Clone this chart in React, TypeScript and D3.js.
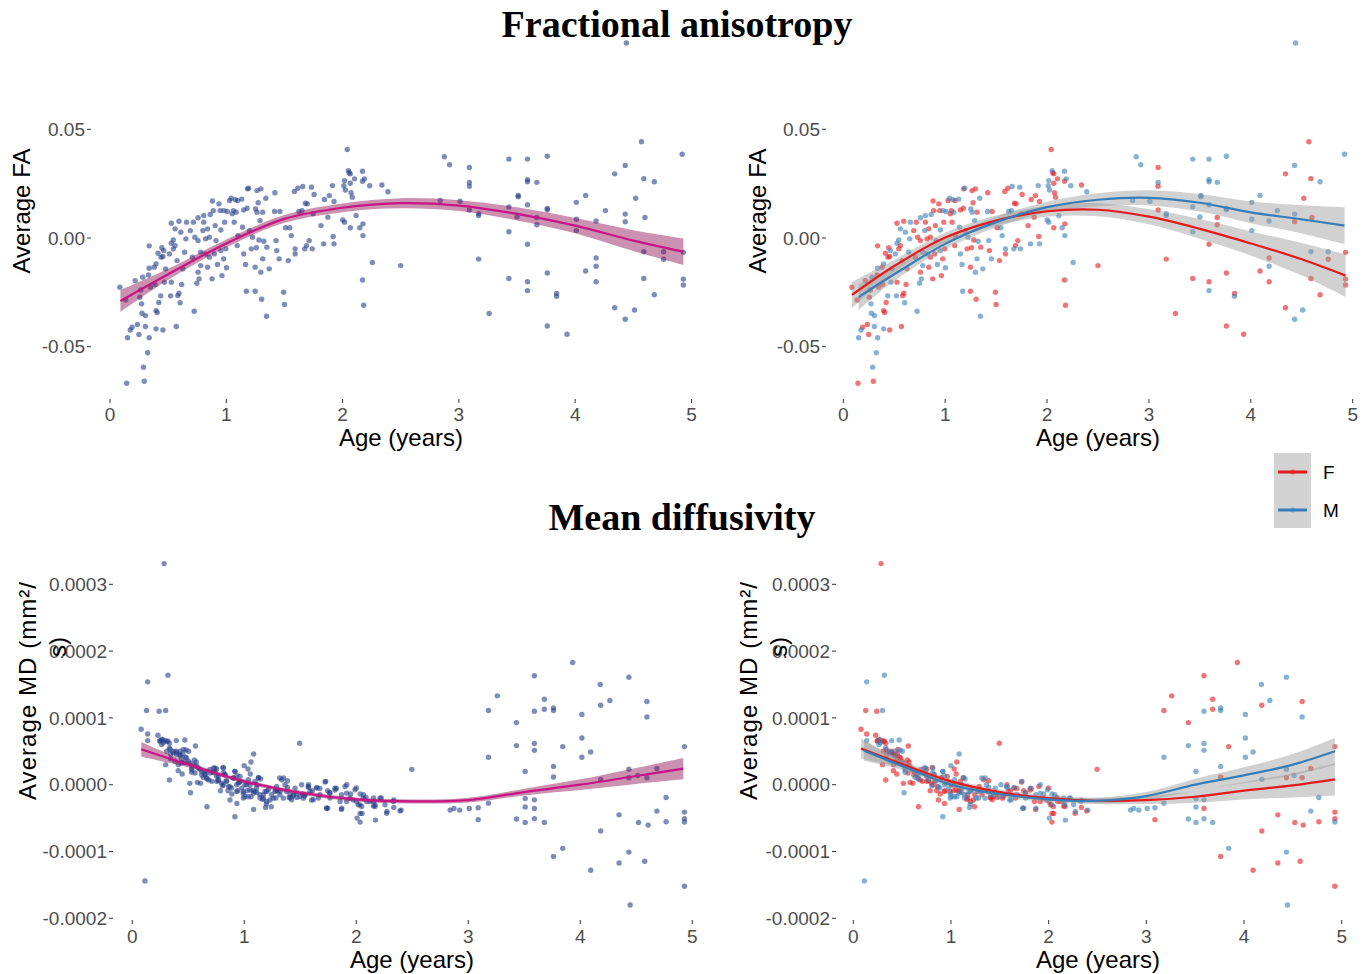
import React from 'react';
import * as d3 from 'd3';

// ---------------- Data ----------------
// Fractional anisotropy (age in years, average FA)
const faFemale: [number, number][] = [
  [0.085,-0.0226],[0.135,-0.0285],[0.19,-0.041],[0.144,-0.0668],[0.236,-0.0398],[0.249,-0.0444],[0.256,-0.0272],[0.295,-0.0659],[0.331,-0.017],[0.337,-0.0036],
  [0.265,-0.0239],[0.216,-0.0196],[0.387,-0.0214],[0.347,-0.0226],[0.396,-0.0334],[0.406,-0.0343],[0.455,-0.0423],[0.42,-0.0297],[0.57,-0.0407],[0.593,-0.0254],
  [0.583,-0.0265],[0.446,-0.0045],[0.413,-0.007],[0.439,-0.0088],[0.455,-0.0085],[0.38,-0.0134],[0.527,-0.0203],[0.56,-0.0035],[0.527,0.0068],[0.593,0.0077],
  [0.544,-0.005],[0.577,-0.0104],[0.626,-0.0142],[0.616,-0.0214],[0.691,0.0034],[0.717,0.0073],[0.73,0.0004],[0.757,-0.0012],[0.757,-0.0157],[0.822,-0.0004],
  [0.839,0.0042],[0.855,0.0004],[0.878,-0.0188],[0.881,0.017],[0.888,0.0126],[0.904,0.0057],[0.937,0.0157],[0.947,0.0126],[0.963,-0.0173],[0.976,-0.0096],
  [0.986,0.0073],[0.996,-0.005],[0.855,-0.0088],[0.708,-0.0088],[0.897,-0.0073],[0.839,-0.0134],[0.806,0.0073],[1.028,0.0172],[1.051,0.0111],[1.061,0.0126],
  [1.097,0.0172],[1.068,0.0073],[1.094,-0.0035],[1.1,0.0011],[1.15,0.0129],[1.179,0.0137],[1.182,0.0226],[1.199,0.0034],[1.215,-0.005],[1.248,-0.0245],
  [1.258,-0.0045],[1.264,0.0218],[1.274,0.0162],[1.281,-0.0009],[1.297,0.0226],[1.304,-0.0282],[1.313,0.0119],[1.248,-0.0134],[1.349,-0.0042],[1.418,0.0208],
  [1.434,-0.0058],[1.461,0.0122],[1.493,-0.0249],[1.5,-0.0306],[1.51,0.0047],[1.533,-0.0104],[1.585,0.0214],[1.592,-0.0073],[1.615,0.0229],[1.69,-0.0035],
  [1.713,-0.0012],[1.746,0.0111],[1.755,0.02],[1.68,0.016],[1.696,0.0157],[1.814,0.0057],[1.844,0.0177],[1.886,0.0195],[1.919,0.0007],[1.926,0.0168],
  [1.873,0.0096],[2.04,0.0407],[2.057,0.03],[2.066,0.0295],[2.066,0.0252],[2.073,0.0208],[2.083,0.0188],[2.066,0.0047],[2.171,0.0261],[2.175,0.0065],
  [2.171,-0.0193],[2.181,-0.0309],[2.338,0.0244],[2.103,0.0272],
  [2.5,-0.0127],[3.09,0.0324],[3.09,0.0238],[3.09,0.0129],[3.17,-0.0097],[3.26,-0.0347],[3.67,0.0094],[3.67,0.0061],[3.59,-0.0029],[3.76,-0.0161],
  [3.43,-0.0186],[3.59,-0.0201],[3.84,-0.0255],[3.76,-0.0405],[3.93,-0.0443],[4.09,-0.0152],[4.18,-0.0092],[4.18,-0.0201],[4.34,0.0295],[4.43,0.0075],
  [4.34,-0.0321],[4.57,0.0443],[4.59,0.0273],[4.52,0.0183],[4.6,0.0094],[4.59,-0.0186],[4.68,-0.0261],[4.76,-0.0098],[4.93,-0.0066],[4.93,-0.0189],[4.93,-0.0216],
];
const faMale: [number, number][] = [
  [0.151,-0.0459],[0.174,-0.0423],[0.272,-0.0303],[0.275,-0.0346],[0.305,-0.0357],[0.288,-0.0594],[0.324,-0.0528],[0.337,-0.0459],[0.305,-0.0407],[0.337,-0.0139],
  [0.282,-0.018],[0.396,-0.0418],[0.436,-0.0266],[0.521,-0.0266],[0.603,-0.0298],[0.462,-0.0058],[0.396,-0.0119],[0.478,-0.0142],[0.468,-0.0203],[0.527,-0.0024],
  [0.544,-0.0009],[0.56,0.0042],[0.609,0.0027],[0.511,-0.0073],[0.642,-0.0065],[0.652,-0.0004],[0.658,0.0073],[0.724,-0.0337],[0.757,0.0093],[0.766,-0.0188],
  [0.747,-0.0208],[0.78,-0.0127],[0.806,0.0103],[0.799,0.0034],[0.862,0.0108],[0.911,-0.0012],[0.924,-0.0122],[0.953,0.0037],[0.979,0.0126],[1.002,-0.0137],
  [0.822,-0.0073],[0.78,-0.0065],[0.953,-0.0058],[1.009,0.0122],[1.042,0.0183],[1.078,0.0176],[1.084,0.0119],[1.133,0.0179],[1.14,0.005],[1.15,-0.0073],
  [1.166,-0.0122],[1.172,-0.0245],[1.192,0.0229],[1.225,0.0004],[1.251,0.0134],[1.264,0.0119],[1.29,0.008],[1.323,-0.0015],[1.313,-0.0096],[1.297,-0.0157],
  [1.346,-0.036],[1.34,0.0183],[1.369,-0.0142],[1.415,0.0122],[1.428,-0.0012],[1.454,-0.0096],[1.546,0.0047],[1.592,-0.005],[1.624,0.0122],[1.651,0.0126],
  [1.657,0.0237],[1.674,-0.005],[1.732,0.0234],[1.739,-0.005],[1.837,-0.0027],[1.559,0.0011],[1.913,0.0241],[1.926,-0.0027],[2.001,0.0083],[2.017,0.0073],
  [2.017,0.0264],[2.011,0.024],[2.024,0.0221],[2.05,0.031],[2.116,0.0103],[2.148,0.0047],[2.171,0.0307],[2.188,0.0272],[2.175,0.0011],[2.233,0.024],
  [2.256,-0.0113],[2.39,0.0213],
  [2.875,0.0374],[2.92,0.0337],[2.84,0.0173],[3.01,0.0169],[3.09,0.0255],[3.17,0.0112],[3.17,0.0103],[3.43,0.0363],[3.59,0.0363],[3.76,0.0376],
  [3.59,0.0268],[3.59,0.0259],[3.67,0.0256],[3.51,0.0196],[3.51,0.019],[3.43,0.0143],[3.59,0.0153],[3.76,0.0136],[3.76,0.013],[3.5,0.0097],
  [3.43,0.0029],[3.59,-0.0242],[3.84,-0.0268],[4.09,0.0196],[4.01,0.0164],[4.01,0.0086],[4.01,0.0034],[4.18,0.0078],[4.26,0.0126],[4.18,-0.013],
  [4.43,0.0334],[4.44,0.0897],[4.43,0.011],[4.43,-0.0374],[4.51,-0.0331],[4.68,0.0259],[4.59,-0.0063],[4.76,-0.0063],[4.92,0.0385],
];

// Mean diffusivity (age in years, average MD in units of 1e-4 mm²/s)
const MD_UNIT = 1e-4;
const mdFemale: [number, number][] = [
  [0.284,3.31],[0.127,1.11],[0.24,1.10],[0.079,0.83],[0.137,0.76],[0.229,0.74],[0.246,0.66],[0.263,0.67],[0.291,0.66],[0.318,0.65],
  [0.332,0.62],[0.342,0.46],[0.393,0.50],[0.428,0.45],[0.451,0.46],[0.472,0.41],[0.564,0.58],[0.298,0.30],[0.332,0.07],[0.41,0.21],
  [0.445,0.16],[0.513,0.02],[0.581,0.035],[0.609,0.02],[0.65,0.16],[0.684,0.07],[0.752,0.235],[0.81,0.26],[0.769,0.06],[0.787,-0.09],
  [0.838,0.06],[0.855,-0.09],[0.872,-0.23],[0.957,0.035],[0.94,-0.09],[0.554,0.37],[0.571,0.34],[1.033,0.235],[1.06,0.34],[1.053,0.16],
  [0.889,-0.14],[0.934,-0.28],[1.026,-0.09],[1.077,-0.09],[1.163,-0.22],[1.084,-0.37],[1.241,-0.33],[1.282,-0.09],[1.385,0.06],[1.402,-0.19],
  [1.436,-0.17],[0.667,-0.33],[1.494,0.62],[1.573,0.0],[1.607,-0.09],[1.675,-0.056],[1.744,-0.09],[1.822,-0.056],[2.0,-0.05],[2.086,-0.19],
  [1.744,-0.35],[1.867,-0.37],[2.034,-0.43],[2.051,-0.43],[2.034,-0.56],[2.335,-0.34],[2.154,-0.32],[2.496,0.23],[1.47,-0.19],[1.539,-0.17],
  [0.307,0.50],[0.396,0.48],[0.44,0.38],[0.5,0.35],[0.574,0.28],[0.619,0.15],[0.693,0.23],[0.753,0.05],[0.813,0.0],[0.902,0.1],
  [0.961,0.05],[1.006,0.0],[1.095,-0.1],[1.17,-0.15],[1.229,-0.23],[1.318,-0.15],[1.408,-0.2],[1.542,-0.15],[1.661,-0.2],[1.81,-0.08],
  [1.914,-0.25],[2.018,-0.3],[2.122,-0.25],
  [0.247,0.652],[0.307,0.652],[0.337,0.526],[0.396,0.451],[0.456,0.526],[0.411,0.3],[0.485,0.401],[0.545,0.3],[0.56,0.175],[0.62,0.2],
  [0.664,0.1],[0.709,0.05],[0.753,0.125],[0.798,0.024],[0.828,0.15],[0.858,-0.026],[0.902,0.1],[0.932,-0.101],[0.962,0.125],[0.991,-0.101],
  [1.021,0.0],[1.051,-0.076],[1.096,0.05],[1.125,0.1],[1.17,-0.201],[1.2,-0.252],[1.244,-0.151],[1.289,-0.026],[1.334,0.075],[1.378,-0.101],
  [1.423,-0.226],[1.468,-0.126],[1.527,-0.201],[1.587,-0.101],[1.646,-0.051],[1.721,0.04],[1.765,-0.126],[1.855,-0.252],[1.899,-0.026],[1.944,-0.201],
  [2.003,-0.252],[2.048,-0.327],[2.093,-0.252],[2.167,-0.327],[2.271,-0.427],[2.39,-0.392],
  [3.932,1.83],[3.59,1.63],[3.259,1.33],[3.679,1.28],[4.595,1.245],[4.182,1.19],[3.18,1.11],[3.679,1.13],[3.43,0.93],[3.843,0.57],
  [4.93,0.57],[3.761,0.116],[4.684,0.244],[4.434,0.105],[4.595,0.105],[3.59,-0.355],[3.088,-0.523],[4.346,-0.451],[4.93,-0.41],[4.93,-0.508],
  [4.52,-0.564],[4.606,-0.605],[4.766,-0.554],[4.182,-0.692],[3.761,-1.075],[4.093,-1.28],[4.346,-1.173],[4.575,-1.147],[4.93,-1.52],
];
const mdMale: [number, number][] = [
  [0.137,1.54],[0.318,1.64],[0.298,1.11],[0.137,0.66],[0.267,0.68],[0.393,0.66],[0.469,0.67],[0.332,0.55],[0.479,0.52],[0.503,0.50],
  [0.342,0.39],[0.53,0.185],[0.633,0.11],[0.667,0.085],[0.725,0.25],[0.814,0.185],[0.804,-0.015],[0.916,0.2],[0.934,0.135],[0.999,0.285],
  [1.084,0.46],[1.128,0.11],[1.145,0.085],[0.992,-0.2],[1.06,-0.18],[1.111,-0.116],[1.19,-0.34],[1.197,-0.29],[1.282,-0.2],[1.299,-0.09],
  [1.316,0.1],[1.35,0.1],[1.385,-0.04],[0.916,-0.48],[0.52,-0.12],[1.573,-0.04],[1.648,-0.04],[1.727,0.05],[1.761,-0.116],[1.915,0.0],
  [1.949,-0.14],[2.034,-0.14],[2.154,-0.2],[2.222,-0.2],[2.335,-0.23],[1.737,-0.35],[2.007,-0.50],[2.171,-0.53],[2.274,-0.40],[2.4,-0.38],
  [1.522,-0.14],[0.113,-1.44],
  [0.366,0.50],[0.426,0.43],[0.47,0.33],[0.53,0.25],[0.604,0.23],[0.649,0.2],[0.723,0.18],[0.738,0.25],[0.768,0.13],[0.827,0.15],
  [0.872,-0.03],[0.932,0.0],[0.991,-0.13],[1.036,-0.18],[1.051,0.0],[1.11,0.0],[1.14,-0.2],[1.2,-0.1],[1.274,-0.1],[1.363,0.0],
  [1.438,-0.15],[1.512,0.0],[1.601,-0.23],[1.765,-0.2],[1.869,-0.15],[1.973,-0.23],[2.063,-0.15],[2.167,-0.3],[2.256,-0.3],
  [0.277,0.627],[0.262,0.602],[0.366,0.476],[0.426,0.501],[0.381,0.351],[0.441,0.326],[0.515,0.326],[0.53,0.225],[0.59,0.25],[0.649,0.15],
  [0.694,0.175],[0.738,0.2],[0.768,0.075],[0.813,0.25],[0.843,0.05],[0.887,-0.051],[0.917,0.2],[0.947,0.024],[0.977,-0.051],[1.006,-0.176],
  [1.036,0.075],[1.081,-0.126],[1.11,-0.051],[1.14,-0.151],[1.185,-0.101],[1.215,-0.076],[1.259,-0.201],[1.319,-0.101],[1.349,-0.201],[1.408,-0.151],
  [1.453,-0.051],[1.497,-0.176],[1.572,-0.026],[1.616,-0.226],[1.676,-0.151],[1.735,-0.352],[1.81,-0.051],[1.87,-0.352],[1.914,-0.126],[1.988,-0.076],
  [2.033,-0.302],[2.063,-0.201],[2.152,-0.252],[2.212,-0.201],[2.331,-0.252],
  [4.434,1.61],[4.178,1.50],[4.264,1.26],[3.59,1.10],[3.761,1.15],[3.761,1.11],[4.014,1.05],[4.595,1.015],[4.014,0.70],[3.43,0.585],
  [3.59,0.617],[3.59,0.514],[3.18,0.41],[4.014,0.41],[4.093,0.49],[3.508,0.197],[3.761,0.274],[4.434,0.233],[4.513,0.137],[4.182,0.08],
  [3.18,-0.278],[3.508,-0.334],[3.508,-0.206],[3.59,-0.227],[3.088,-0.344],[2.838,-0.38],[2.872,-0.355],[2.923,-0.38],[3.009,-0.355],[3.43,-0.513],
  [3.508,-0.564],[3.59,-0.508],[3.679,-0.564],[4.766,-0.191],[4.684,-0.395],[4.93,-0.559],[3.843,-0.953],[4.434,-1.009],[4.445,-1.80],
];

// Fitted curves with confidence band half-widths
const faFitAge = [0.09, 0.5, 1.0, 1.5, 2.0, 2.5, 3.0, 3.5, 4.0, 4.5, 4.93];
const faFitMid = [-0.029, -0.0167, -0.0025, 0.0088, 0.0139, 0.016, 0.0149, 0.0111, 0.0057, -0.0012, -0.0063];
const faFitHalf = [0.005, 0.0025, 0.0018, 0.0018, 0.002, 0.0023, 0.0025, 0.003, 0.0035, 0.0048, 0.0061];

const faFitFAge = [0.085, 0.5, 1.0, 1.5, 2.0, 2.5, 3.0, 3.5, 4.0, 4.5, 4.93];
const faFitFMid = [-0.0262, -0.0129, 0.0002, 0.008, 0.0123, 0.013, 0.0098, 0.0042, -0.0025, -0.0098, -0.0173];
const faFitFHalf = [0.006, 0.0028, 0.0023, 0.0023, 0.0025, 0.003, 0.0035, 0.0045, 0.0055, 0.0075, 0.0098];

const faFitMAge = [0.15, 0.5, 1.0, 1.5, 2.0, 2.5, 3.0, 3.5, 4.0, 4.5, 4.92];
const faFitMMid = [-0.0272, -0.0167, -0.0027, 0.0073, 0.0142, 0.0176, 0.0185, 0.0162, 0.0118, 0.0086, 0.0057];
const faFitMHalf = [0.006, 0.003, 0.0025, 0.0025, 0.0025, 0.003, 0.0035, 0.004, 0.005, 0.0065, 0.0085];

const mdFitAge = [0.08, 0.5, 1.0, 1.5, 2.0, 2.5, 3.0, 3.5, 4.0, 4.5, 4.92];
const mdFitMid = [0.53, 0.30, 0.05, -0.12, -0.22, -0.25, -0.23, -0.11, 0.0, 0.13, 0.24];
const mdFitHalf = [0.11, 0.04, 0.03, 0.03, 0.03, 0.03, 0.035, 0.05, 0.08, 0.12, 0.16];

const mdFitFAge = [0.08, 0.5, 1.0, 1.5, 2.0, 2.5, 3.0, 3.5, 4.0, 4.5, 4.93];
const mdFitFMid = [0.54, 0.31, 0.05, -0.11, -0.20, -0.24, -0.23, -0.18, -0.09, -0.01, 0.08];
const mdFitFHalf = [0.15, 0.06, 0.04, 0.04, 0.04, 0.045, 0.06, 0.09, 0.13, 0.18, 0.24];

const mdFitMAge = [0.11, 0.5, 1.0, 1.5, 2.0, 2.5, 3.0, 3.5, 4.0, 4.5, 4.93];
const mdFitMMid = [0.51, 0.28, 0.0, -0.14, -0.22, -0.24, -0.17, 0.0, 0.14, 0.30, 0.50];
const mdFitMHalf = [0.15, 0.06, 0.04, 0.04, 0.04, 0.045, 0.06, 0.09, 0.12, 0.16, 0.20];

// Ticks
const xTicks = [0, 1, 2, 3, 4, 5];
const faTicks = [-0.05, 0, 0.05];
const faTickLabels = ['-0.05', '0.00', '0.05'];
const mdTicks = [-0.0002, -0.0001, 0, 0.0001, 0.0002, 0.0003];
const mdTickLabels = ['-0.0002', '-0.0001', '0.0000', '0.0001', '0.0002', '0.0003'];
const legendLabels = ['F', 'M'];

// ---------------- Styling ----------------
const SANS = "'Liberation Sans', Arial, Helvetica, sans-serif";
const SERIF = "'Liberation Serif', 'Times New Roman', Times, serif";
const NAVY = '#27408b';
const MAGENTA = '#c71585';
const MAUVE = '#8b0a50';
const RED = '#e41a1c';
const BLUE = '#377eb8';
const TICK_GREY = '#4d4d4d';

type Fit = { a: number; m: number; h: number };
const mkFit = (age: number[], mid: number[], half: number[], k = 1): Fit[] =>
  age.map((a, i) => ({ a, m: mid[i] * k, h: half[i] * k }));

type Group = { data: [number, number][]; color: string; k?: number };
type FitSpec = { fit: Fit[]; line: string; fill: string; fillOpacity: number };

type PanelProps = {
  xr: [number, number];
  yd: [number, number];
  yr: [number, number];
  yTicks: number[];
  yLabels: string[];
  yLabelEnd: number;
  xTickTop: number;
  xLabelBase: number;
  groups: Group[];
  fits: FitSpec[];
};

function Panel(p: PanelProps) {
  const x = d3.scaleLinear().domain([0, 5]).range(p.xr);
  const y = d3.scaleLinear().domain(p.yd).range(p.yr);
  const line = d3.line<Fit>().x(d => x(d.a)).y(d => y(d.m)).curve(d3.curveCatmullRom);
  const area = d3.area<Fit>().x(d => x(d.a)).y0(d => y(d.m - d.h)).y1(d => y(d.m + d.h)).curve(d3.curveCatmullRom);
  const tickX0 = p.yLabelEnd + 2;
  return (
    <g>
      {p.groups.map((g, gi) => (
        <g key={gi}>
          {g.data.map((d, i) => (
            <circle key={i} cx={x(d[0])} cy={y(d[1] * (g.k ?? 1))} r={2.7} fill={g.color} fillOpacity={0.6} />
          ))}
        </g>
      ))}
      {p.fits.map((f, fi) => (
        <path key={'a' + fi} d={area(f.fit) || ''} fill={f.fill} fillOpacity={f.fillOpacity} stroke="none" />
      ))}
      {p.fits.map((f, fi) => (
        <path key={'l' + fi} d={line(f.fit) || ''} fill="none" stroke={f.line} strokeWidth={2.2} />
      ))}
      {p.yTicks.map((t, i) => (
        <g key={'yt' + i}>
          <line x1={tickX0} x2={tickX0 + 4} y1={y(t)} y2={y(t)} stroke="#333" strokeWidth={1} />
          <text x={p.yLabelEnd} y={y(t)} dy="0.35em" textAnchor="end" fontFamily={SANS} fontSize={19} fill={TICK_GREY}>
            {p.yLabels[i]}
          </text>
        </g>
      ))}
      {xTicks.map((t, i) => (
        <g key={'xt' + i}>
          <line x1={x(t)} x2={x(t)} y1={p.xTickTop} y2={p.xTickTop + 4} stroke="#333" strokeWidth={1} />
          <text x={x(t)} y={p.xLabelBase} textAnchor="middle" fontFamily={SANS} fontSize={19} fill={TICK_GREY}>
            {String(t)}
          </text>
        </g>
      ))}
    </g>
  );
}

export default function App() {
  const faAll = mkFit(faFitAge, faFitMid, faFitHalf);
  const faF = mkFit(faFitFAge, faFitFMid, faFitFHalf);
  const faM = mkFit(faFitMAge, faFitMMid, faFitMHalf);
  const mdAll = mkFit(mdFitAge, mdFitMid, mdFitHalf, MD_UNIT);
  const mdF = mkFit(mdFitFAge, mdFitFMid, mdFitFHalf, MD_UNIT);
  const mdM = mkFit(mdFitMAge, mdFitMMid, mdFitMHalf, MD_UNIT);
  const faAllPts = faFemale.concat(faMale);
  const mdAllPts = mdFemale.concat(mdMale);

  const axisTitle = { fontFamily: SANS, fontSize: 24, fill: '#000' } as const;

  return (
    <svg width={1366} height={974} style={{ position: 'absolute', left: 0, top: 0, background: '#fff' }}>
      <rect x={0} y={0} width={1366} height={974} fill="#fff" />
      {/* Titles */}
      <text x={677} y={37} textAnchor="middle" fontFamily={SERIF} fontWeight="bold" fontSize={38}>Fractional anisotropy</text>
      <text x={682} y={530} textAnchor="middle" fontFamily={SERIF} fontWeight="bold" fontSize={38}>Mean diffusivity</text>

      {/* Top-left: FA, all */}
      <Panel
        xr={[110, 691.5]} yd={[-0.05, 0.05]} yr={[346.7, 129.3]}
        yTicks={faTicks} yLabels={faTickLabels} yLabelEnd={85}
        xTickTop={399} xLabelBase={421}
        groups={[{ data: faAllPts, color: NAVY }]}
        fits={[{ fit: faAll, line: MAGENTA, fill: MAUVE, fillOpacity: 0.45 }]}
      />
      {/* Top-right: FA by sex */}
      <Panel
        xr={[843.3, 1352.7]} yd={[-0.05, 0.05]} yr={[346.7, 129.3]}
        yTicks={faTicks} yLabels={faTickLabels} yLabelEnd={820}
        xTickTop={399} xLabelBase={421}
        groups={[{ data: faFemale, color: RED }, { data: faMale, color: BLUE }]}
        fits={[
          { fit: faF, line: RED, fill: '#999999', fillOpacity: 0.45 },
          { fit: faM, line: BLUE, fill: '#999999', fillOpacity: 0.45 },
        ]}
      />
      {/* Bottom-left: MD, all */}
      <Panel
        xr={[132.3, 692.3]} yd={[-0.0002, 0.0003]} yr={[918.3, 584.3]}
        yTicks={mdTicks} yLabels={mdTickLabels} yLabelEnd={107}
        xTickTop={920} xLabelBase={943}
        groups={[{ data: mdAllPts, color: NAVY, k: MD_UNIT }]}
        fits={[{ fit: mdAll, line: MAGENTA, fill: MAUVE, fillOpacity: 0.45 }]}
      />
      {/* Bottom-right: MD by sex */}
      <Panel
        xr={[853.3, 1341.7]} yd={[-0.0002, 0.0003]} yr={[918.3, 584.3]}
        yTicks={mdTicks} yLabels={mdTickLabels} yLabelEnd={830}
        xTickTop={920} xLabelBase={943}
        groups={[{ data: mdFemale, color: RED, k: MD_UNIT }, { data: mdMale, color: BLUE, k: MD_UNIT }]}
        fits={[
          { fit: mdF, line: RED, fill: '#999999', fillOpacity: 0.45 },
          { fit: mdM, line: BLUE, fill: '#999999', fillOpacity: 0.45 },
        ]}
      />

      {/* Axis titles */}
      <text x={401} y={446} textAnchor="middle" {...axisTitle}>Age (years)</text>
      <text x={1098} y={446} textAnchor="middle" {...axisTitle}>Age (years)</text>
      <text x={412} y={968} textAnchor="middle" {...axisTitle}>Age (years)</text>
      <text x={1098} y={968} textAnchor="middle" {...axisTitle}>Age (years)</text>
      <text transform="translate(30,211) rotate(-90)" textAnchor="middle" {...axisTitle}>Average FA</text>
      <text transform="translate(766,211) rotate(-90)" textAnchor="middle" {...axisTitle}>Average FA</text>
      <text transform="translate(36,800) rotate(-90)" textAnchor="start" textLength={218} lengthAdjust="spacing" {...axisTitle}>Average MD  (mm²/</text>
      <text transform="translate(66,657) rotate(-90)" textAnchor="start" {...axisTitle}>s)</text>
      <text transform="translate(757,800) rotate(-90)" textAnchor="start" textLength={218} lengthAdjust="spacing" {...axisTitle}>Average MD  (mm²/</text>
      <text transform="translate(787,657) rotate(-90)" textAnchor="start" {...axisTitle}>s)</text>

      {/* Legend */}
      <rect x={1274} y={453} width={37} height={75} fill="#d3d3d3" />
      {[RED, BLUE].map((c, i) => (
        <g key={i}>
          <circle cx={1292.5} cy={472 + i * 38} r={2.7} fill={c} fillOpacity={0.4} />
          <line x1={1278} x2={1307} y1={472 + i * 38} y2={472 + i * 38} stroke={c} strokeWidth={3} />
          <text x={1323} y={479 + i * 38} fontFamily={SANS} fontSize={19} fill="#000">{legendLabels[i]}</text>
        </g>
      ))}
    </svg>
  );
}
